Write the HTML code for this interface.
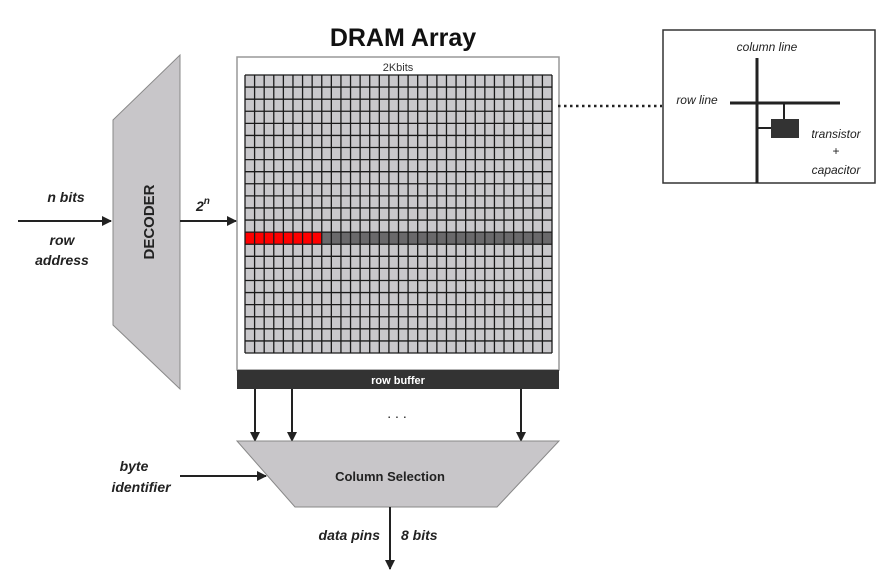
<!DOCTYPE html>
<html><head><meta charset="utf-8"><style>
html,body{margin:0;padding:0;background:#fff;}
svg{display:block;font-family:"Liberation Sans",sans-serif;}
</style></head><body>
<svg width="892" height="575" viewBox="0 0 892 575">
<defs><marker id="ah" markerWidth="10" markerHeight="10" refX="9" refY="5" orient="auto" markerUnits="userSpaceOnUse"><path d="M0,0 L10,5 L0,10 z" fill="#222"/></marker></defs>
<text x="403" y="46" font-size="25" font-weight="bold" text-anchor="middle" fill="#111">DRAM Array</text>
<rect x="237" y="57" width="322" height="313" fill="#fff" stroke="#999" stroke-width="1.5"/>
<text x="398" y="71" font-size="11" text-anchor="middle" fill="#333">2Kbits</text>
<g id="grid"></g>
<rect x="237" y="370" width="322" height="19" fill="#333"/>
<text x="398" y="384" font-size="11" font-weight="bold" text-anchor="middle" fill="#fff">row buffer</text>
<polygon points="113,120 180,55 180,389 113,325" fill="#c8c6c9" stroke="#888" stroke-width="1"/>
<text transform="translate(154,222) rotate(-90)" font-size="15" font-weight="bold" text-anchor="middle" fill="#222">DECODER</text>
<line x1="18" y1="221" x2="111" y2="221" stroke="#222" stroke-width="2" marker-end="url(#ah)"/>
<text x="66" y="202" font-size="14" font-weight="bold" font-style="italic" text-anchor="middle" fill="#222">n bits</text>
<text x="62" y="245" font-size="14" font-weight="bold" font-style="italic" text-anchor="middle" fill="#222">row</text>
<text x="62" y="265" font-size="14" font-weight="bold" font-style="italic" text-anchor="middle" fill="#222">address</text>
<line x1="180" y1="221" x2="236" y2="221" stroke="#222" stroke-width="2" marker-end="url(#ah)"/>
<text x="196" y="211" font-size="14" font-weight="bold" font-style="italic" fill="#222">2<tspan dy="-7" font-size="10">n</tspan></text>
<line x1="255" y1="389" x2="255" y2="441" stroke="#222" stroke-width="2" marker-end="url(#ah)"/>
<line x1="292" y1="389" x2="292" y2="441" stroke="#222" stroke-width="2" marker-end="url(#ah)"/>
<line x1="521" y1="389" x2="521" y2="441" stroke="#222" stroke-width="2" marker-end="url(#ah)"/>
<text x="397" y="418" font-size="14" text-anchor="middle" fill="#222">. . .</text>
<polygon points="237,441 559,441 497,507 295,507" fill="#c8c6c9" stroke="#888" stroke-width="1"/>
<text x="390" y="481" font-size="13" font-weight="bold" text-anchor="middle" fill="#222">Column Selection</text>
<line x1="180" y1="476" x2="266" y2="476" stroke="#222" stroke-width="2" marker-end="url(#ah)"/>
<text x="134" y="471" font-size="14" font-weight="bold" font-style="italic" text-anchor="middle" fill="#222">byte</text>
<text x="141" y="492" font-size="14" font-weight="bold" font-style="italic" text-anchor="middle" fill="#222">identifier</text>
<line x1="390" y1="507" x2="390" y2="569" stroke="#222" stroke-width="2" marker-end="url(#ah)"/>
<text x="380" y="540" font-size="14" font-weight="bold" font-style="italic" text-anchor="end" fill="#222">data pins</text>
<text x="401" y="540" font-size="14" font-weight="bold" font-style="italic" fill="#222">8 bits</text>
<line x1="558" y1="106" x2="662" y2="106" stroke="#222" stroke-width="2.5" stroke-dasharray="2.5,3.5"/>
<rect x="663" y="30" width="212" height="153" fill="#fff" stroke="#333" stroke-width="1.5"/>
<line x1="757" y1="58" x2="757" y2="183" stroke="#222" stroke-width="3"/>
<line x1="730" y1="103" x2="840" y2="103" stroke="#222" stroke-width="3"/>
<line x1="784" y1="103" x2="784" y2="120" stroke="#222" stroke-width="2"/>
<line x1="757" y1="128" x2="771" y2="128" stroke="#222" stroke-width="2"/>
<rect x="771" y="119" width="28" height="19" fill="#333"/>
<text x="767" y="51" font-size="12" font-style="italic" text-anchor="middle" fill="#222">column line</text>
<text x="697" y="104" font-size="12" font-style="italic" text-anchor="middle" fill="#222">row line</text>
<text x="836" y="138" font-size="12" font-style="italic" text-anchor="middle" fill="#222">transistor</text>
<text x="836" y="155" font-size="12" text-anchor="middle" fill="#222">+</text>
<text x="836" y="174" font-size="12" font-style="italic" text-anchor="middle" fill="#222">capacitor</text>
</svg>
<script>
const gridCols = 32;
const gridRows = 23;
const activeRow = 13;
const selectedCells = 8;
const g = document.getElementById('grid');
const NS = 'http://www.w3.org/2000/svg';
const x0 = 245, x1 = 552, y0 = 75, y1 = 353;
const cw = (x1 - x0) / gridCols, ch = (y1 - y0) / gridRows;
const bg = document.createElementNS(NS, 'rect');
bg.setAttribute('x', x0); bg.setAttribute('y', y0); bg.setAttribute('width', x1 - x0); bg.setAttribute('height', y1 - y0); bg.setAttribute('fill', '#c9c8cb');


g.appendChild(bg);
const ar = document.createElementNS(NS, 'rect');
ar.setAttribute('x', x0); ar.setAttribute('y', y0 + activeRow * ch); ar.setAttribute('width', x1 - x0); ar.setAttribute('height', ch); ar.setAttribute('fill', '#6a696b');


g.appendChild(ar);
const sr = document.createElementNS(NS, 'rect');
sr.setAttribute('x', x0); sr.setAttribute('y', y0 + activeRow * ch); sr.setAttribute('width', selectedCells * cw); sr.setAttribute('height', ch); sr.setAttribute('fill', '#f00');


g.appendChild(sr);
for (let i = 0; i <= gridCols; i++) {
  const l = document.createElementNS(NS, 'line');
  const x = x0 + i * cw;
  l.setAttribute('x1', x); l.setAttribute('x2', x); l.setAttribute('y1', y0); l.setAttribute('y2', y1);
  l.setAttribute('stroke', '#1a1a1a'); l.setAttribute('stroke-width', '1.3');
  
  
  g.appendChild(l);
}
for (let j = 0; j <= gridRows; j++) {
  const l = document.createElementNS(NS, 'line');
  const y = y0 + j * ch;
  l.setAttribute('x1', x0); l.setAttribute('x2', x1); l.setAttribute('y1', y); l.setAttribute('y2', y);
  l.setAttribute('stroke', '#1a1a1a'); l.setAttribute('stroke-width', '1.3');
  
  
  g.appendChild(l);
}
</script>
</body></html>
